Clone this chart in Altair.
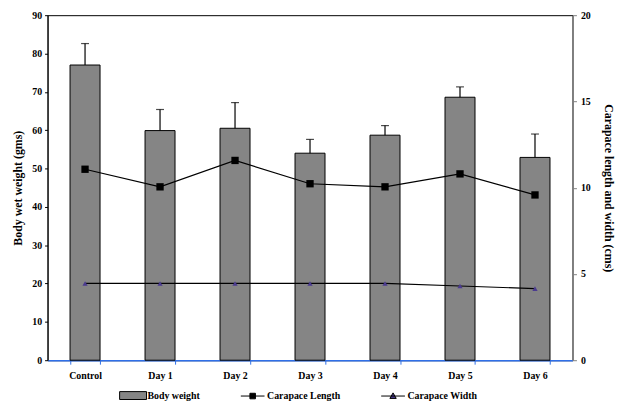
import altair as alt
import pandas as pd

categories = ["Control", "Day 1", "Day 2", "Day 3", "Day 4", "Day 5", "Day 6"]
body_weight = [77.0, 59.9, 60.5, 54.0, 58.7, 68.6, 52.9]
body_weight_err = [5.6, 5.5, 6.7, 3.6, 2.5, 2.7, 6.1]
carapace_length = [11.07, 10.05, 11.58, 10.23, 10.05, 10.8, 9.58]
carapace_width = [4.45, 4.45, 4.45, 4.45, 4.45, 4.3, 4.15]
series_names = ["Body weight", "Carapace Length", "Carapace Width"]
left_ticks = [0, 10, 20, 30, 40, 50, 60, 70, 80, 90]
right_ticks = [0, 5, 10, 15, 20]

df = pd.DataFrame({
    "cat": categories,
    "weight": body_weight,
    "upper": [w + e for w, e in zip(body_weight, body_weight_err)],
    "length": carapace_length,
    "width": carapace_width,
})
leg_df = pd.DataFrame({"series": series_names})

FONT = "Liberation Serif"
FS = 10

x_enc = alt.X(
    "cat:N", sort=categories, title=None,
    scale=alt.Scale(paddingInner=0.6, paddingOuter=0.3),
    axis=alt.Axis(labelAngle=0, tickBand="extent", domainColor="#2f6fe8", domainWidth=1.5,
                  tickColor="#2f6fe8", tickSize=4, labelPadding=7),
)
base = alt.Chart(df).encode(x=x_enc)

left_axis = alt.Axis(title="Body wet weight (gms)", values=left_ticks, labelOverlap=False,
                     grid=False, domainColor="black", tickColor="black", tickSize=3,
                     labelPadding=3, titlePadding=7, titleFontSize=12)
right_axis = alt.Axis(title="Carapace length and width (cms)", orient="right",
                      values=right_ticks, labelOverlap=False, grid=False, domainColor="#808080",
                      tickColor="#808080", tickSize=4, labelPadding=4, titlePadding=11,
                      titleFontSize=12)
left_scale = alt.Scale(domain=[0, 90], nice=False)
right_scale = alt.Scale(domain=[0, 20], nice=False)

bars = base.mark_bar(fill="#858585", stroke="black", strokeWidth=1).encode(
    y=alt.Y("weight:Q", scale=left_scale, axis=left_axis)
)
err_rule = base.mark_rule(color="black", strokeWidth=1.2).encode(
    y=alt.Y("weight:Q", scale=left_scale, axis=left_axis), y2="upper:Q")
err_cap = base.mark_tick(color="black", size=8, thickness=1.2).encode(
    y=alt.Y("upper:Q", scale=left_scale, axis=left_axis))
left = alt.layer(bars, err_rule, err_cap)

len_line = base.mark_line(color="black", strokeWidth=1.2).encode(
    y=alt.Y("length:Q", scale=right_scale, axis=right_axis)
)
len_pts = base.mark_point(shape="square", filled=True, color="black", size=55, opacity=1).encode(
    y=alt.Y("length:Q", scale=right_scale, axis=right_axis))
wid_line = base.mark_line(color="black", strokeWidth=1.2).encode(
    y=alt.Y("width:Q", scale=right_scale, axis=right_axis))
wid_pts = base.mark_point(shape="triangle-up", filled=True, color="#4b3b8f", size=28, opacity=1).encode(
    y=alt.Y("width:Q", scale=right_scale, axis=right_axis))

legend_layer = alt.Chart(leg_df).mark_point(filled=True, opacity=0).encode(
    color=alt.Color("series:N", sort=series_names,
                    scale=alt.Scale(domain=series_names, range=["#858585", "black", "#4b3b8f"]),
                    legend=alt.Legend(title=None, orient="none", direction="horizontal",
                                      legendX=78, legendY=376, columnPadding=38,
                                      symbolSize=256, symbolStrokeColor="black",
                                      symbolStrokeWidth=1, labelOffset=6)),
    shape=alt.Shape("series:N", sort=series_names,
                    scale=alt.Scale(domain=series_names, range=[
                        "M-1.7,-0.5H1.7V0.5H-1.7Z",
                        "M-1.5,0H1.5M-0.35,-0.35H0.35V0.35H-0.35Z",
                        "M-1.5,0H1.5M0,-0.4L0.4,0.3H-0.4Z",
                    ]),
                    legend=None),
)

right = alt.layer(len_line, len_pts, wid_line, wid_pts, legend_layer)

chart = alt.layer(left, right).resolve_scale(y="independent").properties(
    width=531, height=349, autosize=alt.AutoSizeParams(type="none"),
    padding={"left": 40, "top": 5, "right": 43, "bottom": 40},
).configure_view(stroke="black", strokeWidth=1).configure_axis(
    labelFont=FONT, titleFont=FONT, labelFontWeight="bold", titleFontWeight="bold",
    labelFontSize=FS, labelColor="black", titleColor="black",
).configure_legend(labelFont=FONT, labelFontWeight="bold", labelFontSize=FS, labelColor="black")

chart.save("out.html", embed_options={"renderer": "svg", "actions": False})
